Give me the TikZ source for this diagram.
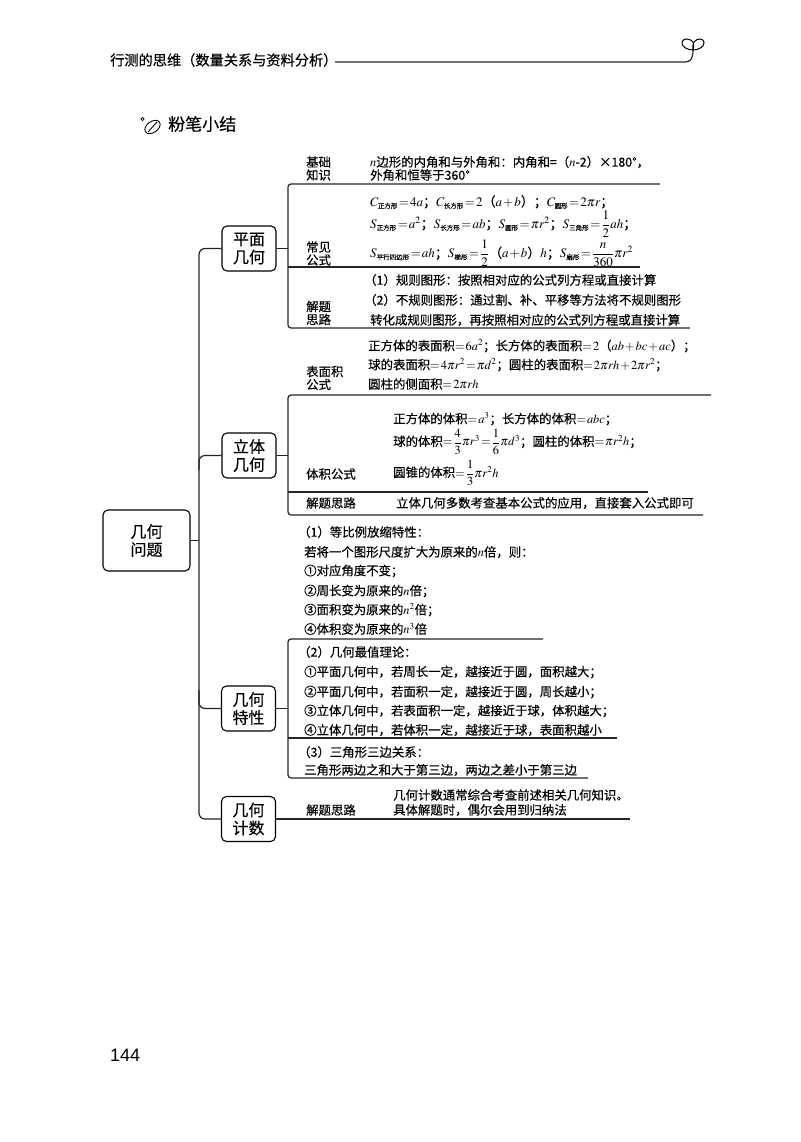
\documentclass[tikz,border=0pt]{standalone}
\usepackage{amsmath}
\usepackage{mathptmx}
\usepackage[no-math]{fontspec}
\setmainfont[FakeBold=0.35]{Noto Sans CJK SC}
\newfontfamily\numfont{Liberation Sans}
\newcommand{\ssub}[1]{_{\mbox{\fontsize{6.5}{6.5}\selectfont #1}}}
\thickmuskip=1.5mu plus 1mu
\medmuskip=1.5mu plus 1mu
\tikzset{
  x=1pt,y=-1pt,
  txt/.style={anchor=west,inner sep=0pt,font=\fontsize{12.4}{14}\selectfont},
  fml/.style={txt,font=\fontsize{13}{15}\selectfont},
  lbl/.style={anchor=west,inner sep=0pt,align=left,font=\fontsize{12.4}{13}\selectfont},
  topic/.style={draw=black,line width=1.1pt,rounded corners=5pt,inner sep=0pt,minimum width=54pt,minimum height=45pt,align=center,font=\fontsize{16}{18}\selectfont},
  rootbox/.style={topic,minimum width=87pt,minimum height=61pt},
  wire/.style={draw=black!85,line width=1.2pt},
  brack/.style={wire,rounded corners=3pt},
}
\begin{document}
\begin{tikzpicture}
\useasboundingbox (0,0) rectangle (800,1142);
\fill[white] (0,0) rectangle (800,1142);
% header
\node[txt,font=\fontsize{14.2}{16}\selectfont] (head) at (110,60) {行测的思维（数量关系与资料分析）};
\coordinate (headend) at (693,50);
\draw[wire] (335,62) -- (685,62) .. controls (691,62) and (693,58) .. (headend);
\draw[line width=1pt] (headend) .. controls (688,50) and (681,47) .. (682,42) .. controls (683,38) and (690,38) .. (693,42) .. controls (694,45) and (694,48) .. (headend);
\draw[line width=1pt] (headend) .. controls (698,50) and (705,47) .. (704,42) .. controls (703,38) and (697,38) .. (694,42) .. controls (693,45) and (692,48) .. (headend);
\node[txt,font=\fontsize{17}{19}\selectfont] (title) at (168,124) {粉笔小结};
\draw[line width=0.7pt] (142.5,119) circle (1.7);
\draw[line width=0.9pt,rotate around={35:(152.5,127)}] (152.5,127) ellipse (8.5 and 5.5);
\draw[line width=0.9pt] (148,132) -- (157,122);
% main boxes
\node[rootbox] (root) at (146.5,540.5) {几何\\问题};
\node[topic] (pm) at (249,248.5) {平面\\几何};
\node[topic] (lt) at (249,455.5) {立体\\几何};
\node[topic] (tx) at (248.5,708.5) {几何\\特性};
\node[topic] (js) at (248.5,819) {几何\\计数};
% trunk
\coordinate (t1) at (199,248.5);
\coordinate (t4) at (199,819);
\draw[brack,rounded corners=6pt] (pm.west) -- (t1) -- (t4) -- (js.west);
\draw[wire] (root.east) -- (root.east -| t1);
\draw[brack,rounded corners=6pt] (lt.west) -- (lt.west -| t1) -- (199,470);
\draw[brack,rounded corners=6pt] (tx.west) -- (tx.west -| t1) -- (199,690);
% plane geometry
\coordinate (a0) at (288,184);
\coordinate (a1) at (288,328);
\draw[brack] (660,184) -- (a0) -- (a1) -- (690,328);
\draw[wire] (a0 |- 0,267) -- (640,267);
\draw[wire] (pm.east) -- (pm.east -| a0);
\node[lbl] (a1a) at (306,168.5) {基础\\知识};
\node[txt] (a1b) at (370,162) {$n$边形的内角和与外角和：内角和=（$n$-2）×180°，};
\node[txt] (a1c) at (370,175) {外角和恒等于360°};
\node[lbl] (a2a) at (306,253.5) {常见\\公式};
\node[fml] (a2b) at (370,202) {$C\ssub{正方形}=4a$；$C\ssub{长方形}=2$（$a+b$）；$C\ssub{圆形}=2\pi r$；};
\node[fml] (a2c) at (370,224) {$S\ssub{正方形}=a^2$；$S\ssub{长方形}=ab$；$S\ssub{圆形}=\pi r^2$；$S\ssub{三角形}=\dfrac{1}{2}ah$；};
\node[fml] (a2d) at (370,253.5) {$S\ssub{平行四边形}=ah$；$S\ssub{梯形}=\dfrac{1}{2}$（$a+b$）$h$；$S\ssub{扇形}=\dfrac{n}{360}\pi r^2$};
\node[lbl] (a3a) at (306,313) {解题\\思路};
\node[txt] (a3b) at (364,280) {（1）规则图形：按照相对应的公式列方程或直接计算};
\node[txt] (a3c) at (364,300) {（2）不规则图形：通过割、补、平移等方法将不规则图形};
\node[txt] (a3d) at (370,320) {转化成规则图形，再按照相对应的公式列方程或直接计算};
% solid geometry
\coordinate (b0) at (288,395);
\coordinate (b1) at (288,515);
\draw[brack] (711,395) -- (b0) -- (b1) -- (703,515);
\draw[wire] (b0 |- 0,492) -- (648,492);
\draw[wire] (lt.east) -- (lt.east -| b0);
\node[lbl] (b1a) at (306,378) {表面积\\公式};
\node[txt] (b1b) at (368,346) {正方体的表面积$=6a^2$；长方体的表面积$=2$（$ab+bc+ac$）；};
\node[txt] (b1c) at (368,365) {球的表面积$=4\pi r^2=\pi d^2$；圆柱的表面积$=2\pi rh+2\pi r^2$；};
\node[txt] (b1d) at (368,384) {圆柱的侧面积$=2\pi rh$};
\node[txt] (b2a) at (306,474) {体积公式};
\node[txt] (b2b) at (393,419) {正方体的体积$=a^3$；长方体的体积$=abc$；};
\node[txt] (b2c) at (393,442) {球的体积$=\dfrac{4}{3}\pi r^3=\dfrac{1}{6}\pi d^3$；圆柱的体积$=\pi r^2h$；};
\node[txt] (b2d) at (393,473) {圆锥的体积$=\dfrac{1}{3}\pi r^2h$};
\node[txt] (b3a) at (306,503) {解题思路};
\node[txt] (b3b) at (396,503) {立体几何多数考查基本公式的应用，直接套入公式即可};
% properties
\coordinate (c0) at (288,639);
\coordinate (c1) at (288,778);
\draw[brack] (543,639) -- (c0) -- (c1) -- (588,778);
\draw[wire] (c0 |- 0,738) -- (617,738);
\draw[wire] (tx.east) -- (tx.east -| c0);
\node[txt] (c1a) at (298,532) {（1）等比例放缩特性：};
\node[txt] (c1b) at (304,552) {若将一个图形尺度扩大为原来的$n$倍，则：};
\node[txt] (c1c) at (304,571) {①对应角度不变；};
\node[txt] (c1d) at (304,591) {②周长变为原来的$n$倍；};
\node[txt] (c1e) at (304,610) {③面积变为原来的$n^2$倍；};
\node[txt] (c1f) at (304,629) {④体积变为原来的$n^3$倍};
\node[txt] (c2a) at (298,652) {（2）几何最值理论：};
\node[txt] (c2b) at (304,672) {①平面几何中，若周长一定，越接近于圆，面积越大；};
\node[txt] (c2c) at (304,692) {②平面几何中，若面积一定，越接近于圆，周长越小；};
\node[txt] (c2d) at (304,711) {③立体几何中，若表面积一定，越接近于球，体积越大；};
\node[txt] (c2e) at (304,730) {④立体几何中，若体积一定，越接近于球，表面积越小};
\node[txt] (c3a) at (298,752) {（3）三角形三边关系：};
\node[txt] (c3b) at (304,770) {三角形两边之和大于第三边，两边之差小于第三边};
% counting
\coordinate (d1) at (630,820);
\draw[wire] (js.east) -- (js.east -| d1);
\node[txt] (d1a) at (306,810) {解题思路};
\node[txt] (d1b) at (393,795) {几何计数通常综合考查前述相关几何知识。};
\node[txt] (d1c) at (393,810) {具体解题时，偶尔会用到归纳法};
% page number
\node[txt,font=\numfont\fontsize{18}{20}\selectfont] (pg) at (110,1055) {144};
\end{tikzpicture}
\end{document}
